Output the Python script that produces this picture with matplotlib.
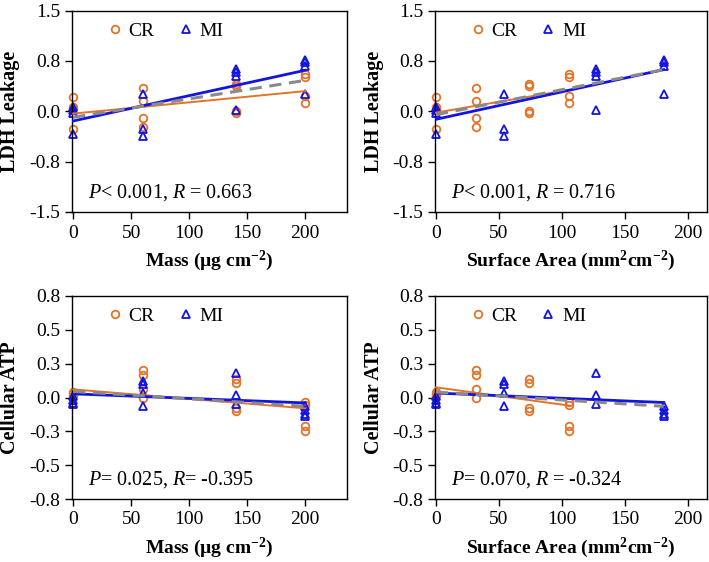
import numpy as np
import matplotlib
matplotlib.use("Agg")
import matplotlib.pyplot as plt
from matplotlib.lines import Line2D

plt.rcParams['font.family'] = ['Liberation Serif', 'DejaVu Serif']
plt.rcParams['mathtext.fontset'] = 'custom'
plt.rcParams['mathtext.rm'] = 'Liberation Serif'
plt.rcParams['mathtext.it'] = 'Liberation Serif:italic'
plt.rcParams['mathtext.bf'] = 'Liberation Serif:bold'

# ---------------- data ----------------
# CR points: dose (mass, µg/cm2) and corresponding surface area (mm2/cm2)
cr_mass = [0, 0, 0, 0, 60, 60, 60, 60, 140, 140, 140, 140, 200, 200, 200, 200]
cr_sa = [0, 0, 0, 0, 32, 32, 32, 32, 74, 74, 74, 74, 106, 106, 106, 106]
cr_ldh = [0.21, 0.06, 0.03, -0.27, 0.35, 0.16, -0.10, -0.23,
          0.40, 0.38, 0.00, -0.02, 0.56, 0.51, 0.23, 0.13]

mi_mass = [0, 0, 0, 0, 60, 60, 60, 140, 140, 140, 140, 200, 200, 200, 200]
mi_sa = [0, 0, 0, 0, 54, 54, 54, 127, 127, 127, 127, 181, 181, 181, 181]
mi_ldh = [0.06, 0.02, -0.02, -0.34, 0.25, -0.26, -0.37,
          0.63, 0.58, 0.53, 0.02, 0.77, 0.73, 0.68, 0.25]

cr_atp_mass = [0, 0, 0, 60, 60, 60, 60, 140, 140, 140, 140, 200, 200, 200, 200]
cr_atp_sa = [0, 0, 0, 32, 32, 32, 32, 74, 74, 74, 74, 106, 106, 106, 106]
cr_atp = [0.04, 0.025, 0.01, 0.20, 0.165, 0.06, -0.005,
          0.135, 0.11, -0.075, -0.10, -0.035, -0.055, -0.21, -0.25]

mi_atp_mass = [0, 0, 0, 0, 60, 60, 60, 60, 140, 140, 140, 200, 200, 200, 200]
mi_atp_sa = [0, 0, 0, 0, 54, 54, 54, 54, 127, 127, 127, 181, 181, 181, 181]
mi_atp = [0.01, -0.02, -0.04, -0.05, 0.125, 0.10, 0.03, -0.06,
          0.18, 0.015, -0.045, -0.06, -0.09, -0.12, -0.14]

# regression line endpoints: (x0, x1, y0, y1)
fit_ldh_mass = {'CR': (0, 200, -0.035, 0.30), 'MI': (0, 200, -0.145, 0.61), 'All': (0, 200, -0.09, 0.46)}
fit_ldh_sa = {'CR': (0, 106, -0.02, 0.32), 'MI': (0, 181, -0.12, 0.62), 'All': (0, 181, -0.05, 0.62)}
fit_atp_mass = {'CR': (0, 200, 0.06, -0.08), 'MI': (0, 200, 0.027, -0.04), 'All': (0, 200, 0.045, -0.065)}
fit_atp_sa = {'CR': (0, 106, 0.075, -0.06), 'MI': (0, 181, 0.033, -0.037), 'All': (0, 181, 0.04, -0.065)}

stats = ["$P$< 0.001, $R$ = 0.663", "$P$< 0.001, $R$ = 0.716",
         "$P$= 0.025, $R$= -0.395", "$P$= 0.070, $R$ = -0.324"]

ldh_ticks = [1.5, 0.75, 0.0, -0.75, -1.5]
ldh_ticklabels = ['1.5', '0.8', '0.0', '-0.8', '-1.5']
atp_ticks = [0.75, 0.5, 0.25, 0.0, -0.25, -0.5, -0.75]
atp_ticklabels = ['0.8', '0.5', '0.3', '0.0', '-0.3', '-0.5', '-0.8']
x_ticks = [0, 50, 100, 150, 200]

xlabel_mass = r'Mass (µg cm$^{\mathbf{-2}}$)'
xlabel_sa = r'Surface Area (mm$^{\mathbf{2}}$cm$^{\mathbf{-2}}$)'

ORANGE = '#E2742A'
BLUE = '#1414E0'
GRAY = '#8A8A8A'

fig = plt.figure(figsize=(7.09, 5.62), dpi=100)

W, H = 709, 562
def ax_rect(l, r, t, b):
    return [l / W, 1 - b / H, (r - l) / W, (b - t) / H]

axes = [
    fig.add_axes(ax_rect(72, 347, 10.5, 212)),
    fig.add_axes(ax_rect(435, 707, 10.5, 212)),
    fig.add_axes(ax_rect(72, 347, 296, 499)),
    fig.add_axes(ax_rect(435, 707, 296, 499)),
]

panels = [
    (cr_mass, cr_ldh, mi_mass, mi_ldh, fit_ldh_mass, (-1.0, 236), (-1.5, 1.5), ldh_ticks, ldh_ticklabels, 'LDH Leakage', xlabel_mass),
    (cr_sa, cr_ldh, mi_sa, mi_ldh, fit_ldh_sa, (-0.8, 215.4), (-1.5, 1.5), ldh_ticks, ldh_ticklabels, 'LDH Leakage', xlabel_sa),
    (cr_atp_mass, cr_atp, mi_atp_mass, mi_atp, fit_atp_mass, (-1.0, 236), (-0.75, 0.75), atp_ticks, atp_ticklabels, 'Cellular ATP', xlabel_mass),
    (cr_atp_sa, cr_atp, mi_atp_sa, mi_atp, fit_atp_sa, (-0.8, 215.4), (-0.75, 0.75), atp_ticks, atp_ticklabels, 'Cellular ATP', xlabel_sa),
]

MS = 5.5
for ax, (cx, cy, mx, my, fit, xl, yl, yt, ytl, ylab, xlab), st in zip(axes, panels, stats):
    ax.plot(cx, cy, linestyle='none', marker='o', ms=MS, mfc='none', mec=ORANGE, mew=1.3, zorder=2, clip_on=False)
    ax.plot(mx, my, linestyle='none', marker='^', ms=MS, mfc='none', mec=BLUE, mew=1.3, zorder=2, clip_on=False)
    x0, x1, y0, y1 = fit['CR']
    ax.plot([x0, x1], [y0, y1], color=ORANGE, lw=1.4, zorder=3)
    x0, x1, y0, y1 = fit['MI']
    ax.plot([x0, x1], [y0, y1], color=BLUE, lw=2.0, zorder=4)
    x0, x1, y0, y1 = fit['All']
    ax.plot([x0, x1], [y0, y1], color=GRAY, lw=2.2, ls=(0, (4, 2.5)), zorder=5)

    ax.set_xlim(*xl)
    ax.set_ylim(*yl)
    ax.set_xticks(x_ticks)
    ax.set_yticks(yt)
    ax.set_yticklabels(ytl)
    ax.tick_params(direction='out', length=5, width=1, labelsize=14,
                   top=False, right=False)
    ax.tick_params(axis='y', pad=3.5)
    ax.tick_params(axis='x', pad=4)
    for sp in ax.spines.values():
        sp.set_linewidth(1.0)

    ax.set_ylabel(ylab, fontsize=14.5, fontweight='bold')
    ax.yaxis.label.set_va('center')
    ax.yaxis.set_label_coords(-0.225, 0.5)
    ax.set_xlabel(xlab, fontsize=14, fontweight='bold')
    ax.xaxis.label.set_va('center')
    ax.xaxis.set_label_coords(0.5, -0.24)

    ax.text(0.059, 0.095, st, transform=ax.transAxes, fontsize=14.5, ha='left', va='center')

    handles = [Line2D([], [], linestyle='none', marker='o', ms=MS, mfc='none', mec=ORANGE, mew=1.3),
               Line2D([], [], linestyle='none', marker='^', ms=MS, mfc='none', mec=BLUE, mew=1.3)]
    ax.legend(handles, ['CR', 'MI'], loc='upper left', bbox_to_anchor=(0.085, 1.0), ncol=2,
              frameon=False, fontsize=14, handlelength=0.8, handletextpad=0.3,
              columnspacing=1.2, borderaxespad=0.2)

fig.savefig('out.png', dpi=100)
